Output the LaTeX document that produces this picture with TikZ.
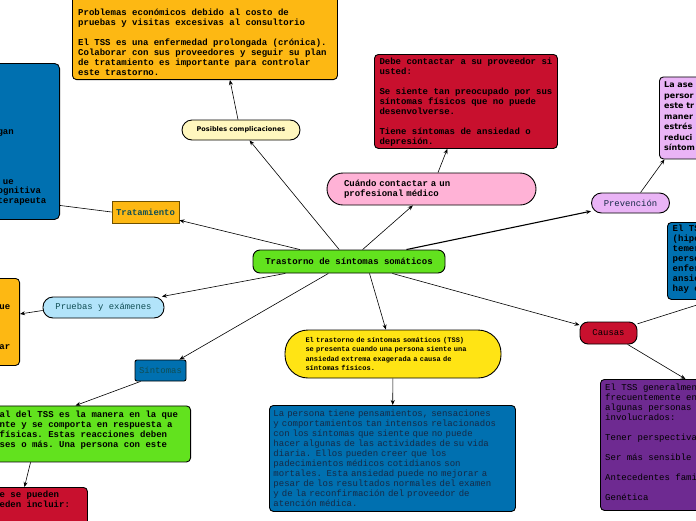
\documentclass[tikz,border=0pt]{standalone}
\usepackage{fontspec}
\setmonofont{Liberation Mono}
\newfontfamily\sansbold{DejaVu Sans}
\usetikzlibrary{arrows.meta}
\definecolor{orangeM}{RGB}{253,184,19}
\definecolor{crimsonM}{RGB}{200,16,46}
\definecolor{greenM}{RGB}{98,226,30}
\definecolor{pinkM}{RGB}{255,178,214}
\definecolor{lilacM}{RGB}{234,180,246}
\definecolor{skyM}{RGB}{178,228,250}
\definecolor{blueM}{RGB}{0,112,176}
\definecolor{yellowM}{RGB}{255,228,20}
\definecolor{purpleM}{RGB}{110,42,145}
\definecolor{creamM}{RGB}{255,247,190}
\definecolor{oliveM}{RGB}{110,80,0}
\definecolor{tealM}{RGB}{16,78,84}
\definecolor{navyM}{RGB}{22,42,70}
\newcommand{\boxfont}{\ttfamily\bfseries\fontsize{9}{10}\selectfont}
\newcommand{\thinfont}{\ttfamily\fontsize{9}{10}\selectfont}
\newcommand{\labfont}{\ttfamily\fontsize{8.9}{10}\selectfont}

\begin{document}
\begin{tikzpicture}[x=1pt, y=-1pt,
    box/.style={draw=black, line width=0.9pt, rounded corners=4pt, inner sep=0pt},
    pill/.style={draw=black, line width=0.9pt, rounded corners=#1, inner sep=0pt, align=center},
    pill/.default=10pt,
    txt/.style={inner sep=0pt, align=left, anchor=north west},
    lnk/.style={-{Stealth[length=5pt,width=4pt]}, line width=0.6pt}]

    \useasboundingbox (0,0) rectangle (696,520);
    \clip (0,0) rectangle (696,520);

    % centre
    \node[pill=7pt, fill=greenM, minimum width=192pt, minimum height=23pt, font=\boxfont] (main) at (349,261.5) {Trastorno de síntomas somáticos};

    % complicaciones
    \node[pill, fill=creamM, minimum width=118pt, minimum height=20pt, font=\sansbold\bfseries\fontsize{6.5}{8}\selectfont] (posib) at (241,130) {Posibles complicaciones};
    \node[box, fill=orangeM, minimum width=265pt, minimum height=95pt, anchor=south west] (compl) at (72,80) {};
    \node[txt, font=\boxfont] (complt) at (78,8.5) {\strut Problemas económicos debido al costo de\\
        pruebas y visitas excesivas al consultorio\\[10pt]
        El TSS es una enfermedad prolongada (crónica).\\
        Colaborar con sus proveedores y seguir su plan\\
        de tratamiento es importante para controlar\\
        este trastorno.};

    % tratamiento
    \node[draw=oliveM, line width=0.9pt, fill=orangeM, minimum width=67pt, minimum height=22pt, inner sep=0pt, font=\labfont\bfseries, text=tealM] (trat) at (145.5,212) {Tratamiento};
    \node[box, rounded corners=5pt, fill=blueM, minimum width=75pt, minimum height=156pt, anchor=north east] (lblue) at (60,63) {};
    \node[txt, anchor=north east, align=right, font=\boxfont] (lbluea) at (14,127.5) {\strut gan\\[40pt]ue};
    \node[txt, font=\boxfont] (lblueb) at (-2.5,186.7) {\strut ognitiva\\terapeuta};

    % contactar
    \node[pill=16pt, fill=pinkM, minimum width=209pt, minimum height=32pt, text width=175pt, inner xsep=17pt, align=left, font=\boxfont] (cuando) at (431.5,189) {Cuándo contactar a un\\profesional médico};
    \node[box, fill=crimsonM, minimum width=183pt, minimum height=94pt, inner xsep=5pt, align=left, anchor=north west, font=\boxfont] (redq) at (374,54) {\strut Debe contactar a su proveedor si\\
        usted:\\[10pt]
        Se siente tan preocupado por sus\\
        síntomas físicos que no puede\\
        desenvolverse.\\[10pt]
        Tiene síntomas de ansiedad o\\
        depresión.};

    % prevencion
    \node[pill, fill=lilacM, minimum width=78pt, minimum height=20pt, font=\labfont, text=navyM] (prev) at (630.5,203) {Prevención};
    \node[box, fill=lilacM, minimum width=70pt, minimum height=82pt, anchor=north west] (lav) at (659,76.5) {};
    \node[txt, font=\sansbold\bfseries\fontsize{8}{10.5}\selectfont] (lavt) at (664,80) {\strut La ase\\persor\\este tr\\maner\\estrés\\reduci\\síntom};

    % causas
    \node[pill=8pt, fill=crimsonM, minimum width=57pt, minimum height=22pt, font=\labfont] (causas) at (608.5,333) {Causas};
    \coordinate (causasR) at (760,285);
    \node[box, fill=blueM, minimum width=60pt, minimum height=77pt, anchor=north west] (rblue) at (667,222) {};
    \node[txt, font=\boxfont] (rbluet) at (672.5,224.7) {\strut El TS\\(hipo\\temer\\perso\\enfer\\ansie\\hay c};
    \node[box, fill=purpleM, minimum width=120pt, minimum height=131pt, anchor=north west] (purp) at (600,379) {};
    \node[txt, font=\thinfont] (purpt) at (605,383.5) {\strut El TSS generalmen\\
        frecuentemente en\\
        algunas personas\\
        involucrados:\\[10pt]
        Tener perspectiva\\[10pt]
        Ser más sensible\\[10pt]
        Antecedentes fami\\[10pt]
        Genética};

    % definicion
    \node[pill=23pt, fill=yellowM, minimum width=216pt, minimum height=48pt, text width=175pt, inner xsep=20.5pt, align=left, font=\ttfamily\bfseries\fontsize{7}{9.2}\selectfont] (yellow) at (393,354) {El trastorno de síntomas somáticos (TSS)\\
        se presenta cuando una persona siente una\\
        ansiedad extrema exagerada a causa de\\
        síntomas físicos.};
    \node[box, fill=blueM, minimum width=246pt, minimum height=106pt, text width=238pt, inner xsep=4pt, align=left, anchor=north west, font=\thinfont, text=navyM] (bluebot) at (269,405) {La persona tiene pensamientos, sensaciones\\
        y comportamientos tan intensos relacionados\\
        con los síntomas que siente que no puede\\
        hacer algunas de las actividades de su vida\\
        diaria. Ellos pueden creer que los\\
        padecimientos médicos cotidianos son\\
        mortales. Esta ansiedad puede no mejorar a\\
        pesar de los resultados normales del examen\\
        y de la reconfirmación del proveedor de\\
        atención médica.};

    % pruebas
    \node[pill, fill=skyM, minimum width=121pt, minimum height=21pt, font=\labfont, text=tealM] (pruebas) at (103.5,307.5) {Pruebas y exámenes};
    \node[box, fill=orangeM, minimum width=40pt, minimum height=87pt, anchor=north east] (lorange) at (20,278) {};
    \node[txt, anchor=north east, align=right, font=\boxfont] (loranget) at (10.5,302.5) {\strut ue\\[30pt]ar};

    % sintomas
    \node[pill=2pt, fill=blueM, minimum width=51pt, minimum height=21pt, font=\labfont, text=tealM] (sint) at (160.5,370.5) {Síntomas};
    \node[box, fill=greenM, minimum width=210pt, minimum height=56pt, anchor=north east] (green) at (191,405.5) {};
    \node[txt, font=\boxfont] (greent) at (-0.5,410) {\strut al del TSS es la manera en la que\\
        nte y se comporta en respuesta a\\
        físicas. Estas reacciones deben\\
        ses o más. Una persona con este};
    \node[box, fill=crimsonM, minimum width=100pt, minimum height=45pt, anchor=north west] (bred) at (-13,487) {};
    \node[txt, font=\boxfont] (bredt) at (-0.5,490) {\strut e se pueden\\eden incluir:};

    % connectors
    \draw[lnk] (main) -- (posib);
    \draw[lnk] ([xshift=-3pt]posib.north) -- ([xshift=25pt]compl.south);
    \draw[lnk] (main) -- (trat);
    \draw[line width=0.6pt] (trat.west) -- ([yshift=-64pt]lblue.east);
    \draw[lnk] (main) -- (cuando);
    \draw[lnk] (cuando) -- (redq);
    \draw[lnk, line width=1.1pt] (main) -- (prev);
    \draw[lnk] ([xshift=10pt]prev.north) -- (lav);
    \draw[lnk] (main) -- (causas);
    \draw[lnk] (causas) -- (causasR);
    \draw[lnk] (causas) -- ([xshift=25pt]purp.north);
    \draw[lnk] ([xshift=20.5pt]main.south) -- (yellow);
    \draw[lnk] (yellow) -- (bluebot);
    \draw[lnk] (main) -- (pruebas);
    \draw[lnk] ([yshift=-3pt]pruebas.west) -- ([yshift=8pt]lorange.east);
    \draw[lnk] (main) -- (sint);
    \draw[lnk] ([xshift=-20pt]sint.south) -- ([xshift=-10pt]green.north);
    \draw[lnk] ([xshift=-55pt]green.south) -- ([xshift=-13pt]bred.north);

\end{tikzpicture}
\end{document}
